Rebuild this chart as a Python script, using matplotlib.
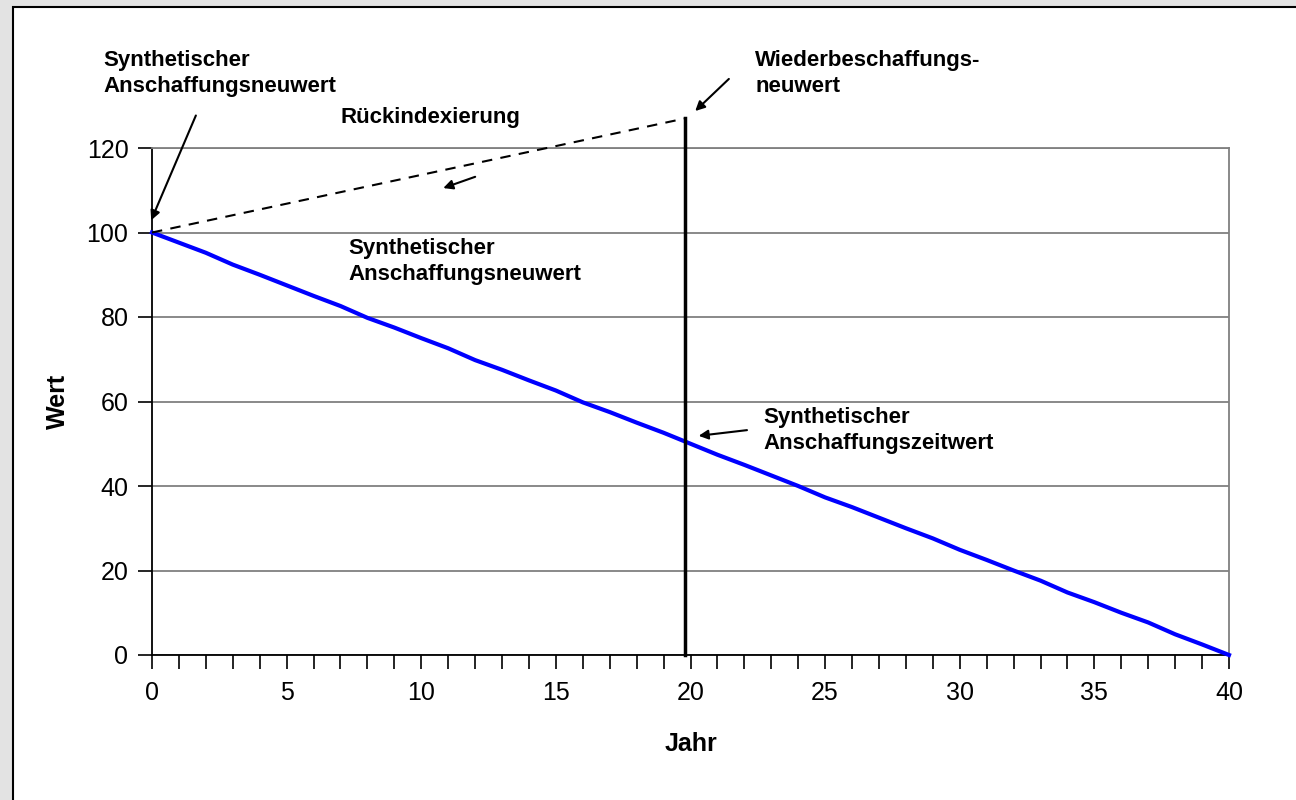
import numpy as np
import matplotlib.pyplot as plt
from matplotlib.patches import Rectangle

plt.rcParams['font.family'] = ['Liberation Sans', 'DejaVu Sans']

# Jahr / Wert (synthetischer Zeitwert, jährlich)
jahre = list(range(0, 41))
zeitwert = [100, 97.6, 95.2, 92.4, 90.0, 87.5, 85.0, 82.6, 79.8, 77.5,
            75.0, 72.6, 69.8, 67.5, 65.0, 62.6, 59.8, 57.5, 55.0, 52.6,
            50.0, 47.4, 45.0, 42.5, 40.0, 37.3, 35.0, 32.5, 30.0, 27.6,
            24.9, 22.5, 20.0, 17.6, 14.8, 12.5, 10.0, 7.7, 4.9, 2.5, 0]

# Rückindexierung (gestrichelt) und Stichtag
rueck_x = [0, 19.8]
rueck_y = [100, 127]
stichtag = 19.8
stichtag_wert = 127

fig = plt.figure(figsize=(12.96, 8.0), dpi=100)
fig.patch.set_facecolor('#e3e3e3')
# white chart area with black frame (cropped at right/bottom)
frame = Rectangle((13 / 1296, -0.05), 1.2, 1 - 7 / 800 + 0.05,
                  transform=fig.transFigure, facecolor='white',
                  edgecolor='black', linewidth=1.5, zorder=-10)
fig.add_artist(frame)

ax = fig.add_axes([152 / 1296, 1 - 655 / 800, (1229 - 152) / 1296, (655 - 148) / 800])
ax.set_facecolor('white')

ax.plot(jahre, zeitwert, color='#0000ff', linewidth=3, zorder=4, clip_on=False)
ax.plot(rueck_x, rueck_y, color='black', linewidth=1.5, linestyle=(0, (5, 4)), zorder=4, clip_on=False)
ax.plot([stichtag, stichtag], [0, stichtag_wert], color='black', linewidth=2.5, zorder=4, clip_on=False)

ax.set_xlim(0, 40)
ax.set_ylim(0, 120)
ax.set_xticks(range(0, 41, 5))
ax.set_xticks(range(0, 41, 1), minor=True)
ax.set_yticks(range(0, 121, 20))
ax.tick_params(axis='both', which='major', labelsize=18, length=10, width=1.2, direction='out', color='black')
ax.tick_params(axis='x', which='minor', length=10, width=1.2, direction='out', color='black')
ax.tick_params(axis='x', which='major', pad=9)
ax.tick_params(axis='y', which='major', pad=7)

ax.grid(True, axis='y', color='#808080', linewidth=1.3)
ax.set_axisbelow(True)
for s in ['left', 'bottom']:
    ax.spines[s].set_color('black')
    ax.spines[s].set_linewidth(1.3)
for s in ['right', 'top']:
    ax.spines[s].set_color('#808080')
    ax.spines[s].set_linewidth(1.3)

ax.set_xlabel('Jahr', fontsize=18, fontweight='bold', labelpad=19)
ax.set_ylabel('Wert', fontsize=18, fontweight='bold', labelpad=12)

lab = dict(fontsize=16, fontweight='bold', ha='left', va='top', linespacing=1.3)
ax.text(-1.82, 143.2, 'Synthetischer\nAnschaffungsneuwert', clip_on=False, **lab)
ax.text(7.0, 129.8, 'Rückindexierung', clip_on=False, **lab)
ax.text(22.4, 143.2, 'Wiederbeschaffungs-\nneuwert', clip_on=False, **lab)
ax.text(7.28, 98.6, 'Synthetischer\nAnschaffungsneuwert', **lab)
ax.text(22.7, 58.6, 'Synthetischer\nAnschaffungszeitwert', **lab)

arr = dict(arrowstyle='-|>', color='black', lw=1.5, mutation_scale=14)
ax.annotate('', xy=(-0.07, 102.3), xytext=(1.67, 128.3), arrowprops=arr, annotation_clip=False)
ax.annotate('', xy=(20.1, 128.3), xytext=(21.5, 136.8), arrowprops=arr, annotation_clip=False)
ax.annotate('', xy=(20.2, 51.8), xytext=(22.2, 53.3), arrowprops=arr, annotation_clip=False)
ax.annotate('', xy=(10.72, 110.3), xytext=(12.1, 113.4), arrowprops=arr, annotation_clip=False)

fig.savefig('out.png', dpi=100, facecolor=fig.get_facecolor())
